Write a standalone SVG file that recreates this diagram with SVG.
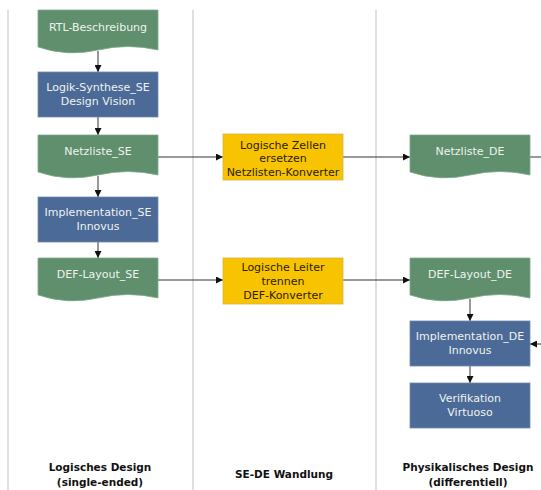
<svg xmlns="http://www.w3.org/2000/svg" width="541" height="490" viewBox="0 0 541 490">
<defs>
<style>
.lane{stroke:#d4d4d4;stroke-width:1.5;fill:none}
.doc{fill:#5f8f6c;stroke:#7fa88a;stroke-width:0.8}
.proc{fill:#4b6a97;stroke:#7089b0;stroke-width:0.8}
.conv{fill:#f8c300;stroke:#d9b24a;stroke-width:0.8}
.lt{font-family:"DejaVu Sans",sans-serif;font-size:11px;fill:#eef3ef;text-anchor:middle}
.dt{font-family:"DejaVu Sans",sans-serif;font-size:11px;fill:#2a2200;text-anchor:middle}
.hd{font-family:"DejaVu Sans",sans-serif;font-size:10.5px;font-weight:bold;fill:#111;text-anchor:middle}
.con{stroke:#333;stroke-width:1;fill:none;marker-end:url(#ah)}
.conn{stroke:#333;stroke-width:1;fill:none}
</style>
<marker id="ah" viewBox="0 0 8 8" refX="8" refY="4" markerWidth="7" markerHeight="7" markerUnits="userSpaceOnUse" orient="auto">
<path d="M0,0 L8,4 L0,8 Z" fill="#111"/>
</marker>
</defs>
<rect width="541" height="490" fill="#fff"/>
<g id="lanes">
<line class="lane" x1="8" y1="10" x2="8" y2="490"/>
<line class="lane" x1="193" y1="10" x2="193" y2="490"/>
<line class="lane" x1="376" y1="10" x2="376" y2="490"/>
</g>
<g id="connectors">
<line class="con" x1="98" y1="51" x2="98" y2="72"/>
<line class="con" x1="98" y1="117" x2="98" y2="135"/>
<line class="con" x1="98" y1="176" x2="98" y2="197"/>
<line class="con" x1="98" y1="242" x2="98" y2="258"/>
<line class="con" x1="158" y1="157" x2="223" y2="157"/>
<line class="con" x1="343" y1="157" x2="410" y2="157"/>
<line class="conn" x1="530" y1="157" x2="541" y2="157"/>
<line class="con" x1="158" y1="280" x2="223" y2="280"/>
<line class="con" x1="343" y1="280" x2="410" y2="280"/>
<line class="con" x1="470" y1="299" x2="470" y2="321"/>
<line class="con" x1="470" y1="366" x2="470" y2="383"/>
<line class="con" x1="541" y1="344" x2="530" y2="344"/>
</g>
<g id="rtl">
<path class="doc" d="M38,10 H158 V50 Q128,43 98,50 Q68,57 38,47 Z"/>
<text class="lt" x="98" y="31">RTL-Beschreibung</text>
</g>
<g id="synth">
<rect class="proc" x="38" y="72" width="120" height="45"/>
<text class="lt" x="98" y="91">Logik-Synthese_SE</text>
<text class="lt" x="98" y="105">Design Vision</text>
</g>
<g id="netz-se">
<path class="doc" d="M38,135 H158 V175 Q128,168 98,175 Q68,182 38,172 Z"/>
<text class="lt" x="98" y="155">Netzliste_SE</text>
</g>
<g id="impl-se">
<rect class="proc" x="38" y="197" width="120" height="45"/>
<text class="lt" x="98" y="216">Implementation_SE</text>
<text class="lt" x="98" y="230">Innovus</text>
</g>
<g id="def-se">
<path class="doc" d="M38,258 H158 V298 Q128,291 98,298 Q68,305 38,295 Z"/>
<text class="lt" x="98" y="278">DEF-Layout_SE</text>
</g>
<g id="conv-netz">
<rect class="conv" x="223" y="134" width="120" height="46"/>
<text class="dt" x="283" y="149">Logische Zellen</text>
<text class="dt" x="283" y="162">ersetzen</text>
<text class="dt" x="283" y="176">Netzlisten-Konverter</text>
</g>
<g id="conv-def">
<rect class="conv" x="223" y="258" width="120" height="46"/>
<text class="dt" x="283" y="271">Logische Leiter</text>
<text class="dt" x="283" y="285">trennen</text>
<text class="dt" x="283" y="299">DEF-Konverter</text>
</g>
<g id="netz-de">
<path class="doc" d="M410,135 H530 V175 Q500,168 470,175 Q440,182 410,172 Z"/>
<text class="lt" x="470" y="155">Netzliste_DE</text>
</g>
<g id="def-de">
<path class="doc" d="M410,258 H530 V298 Q500,291 470,298 Q440,305 410,295 Z"/>
<text class="lt" x="470" y="278">DEF-Layout_DE</text>
</g>
<g id="impl-de">
<rect class="proc" x="410" y="321" width="120" height="45"/>
<text class="lt" x="470" y="340">Implementation_DE</text>
<text class="lt" x="470" y="354">Innovus</text>
</g>
<g id="verif">
<rect class="proc" x="410" y="383" width="120" height="45"/>
<text class="lt" x="470" y="402">Verifikation</text>
<text class="lt" x="470" y="416">Virtuoso</text>
</g>
<g id="headers">
<text class="hd" x="100" y="471">Logisches Design</text>
<text class="hd" x="100" y="486">(single-ended)</text>
<text class="hd" x="284" y="478">SE-DE Wandlung</text>
<text class="hd" x="468" y="471">Physikalisches Design</text>
<text class="hd" x="468" y="486">(differentiell)</text>
</g>
</svg>
